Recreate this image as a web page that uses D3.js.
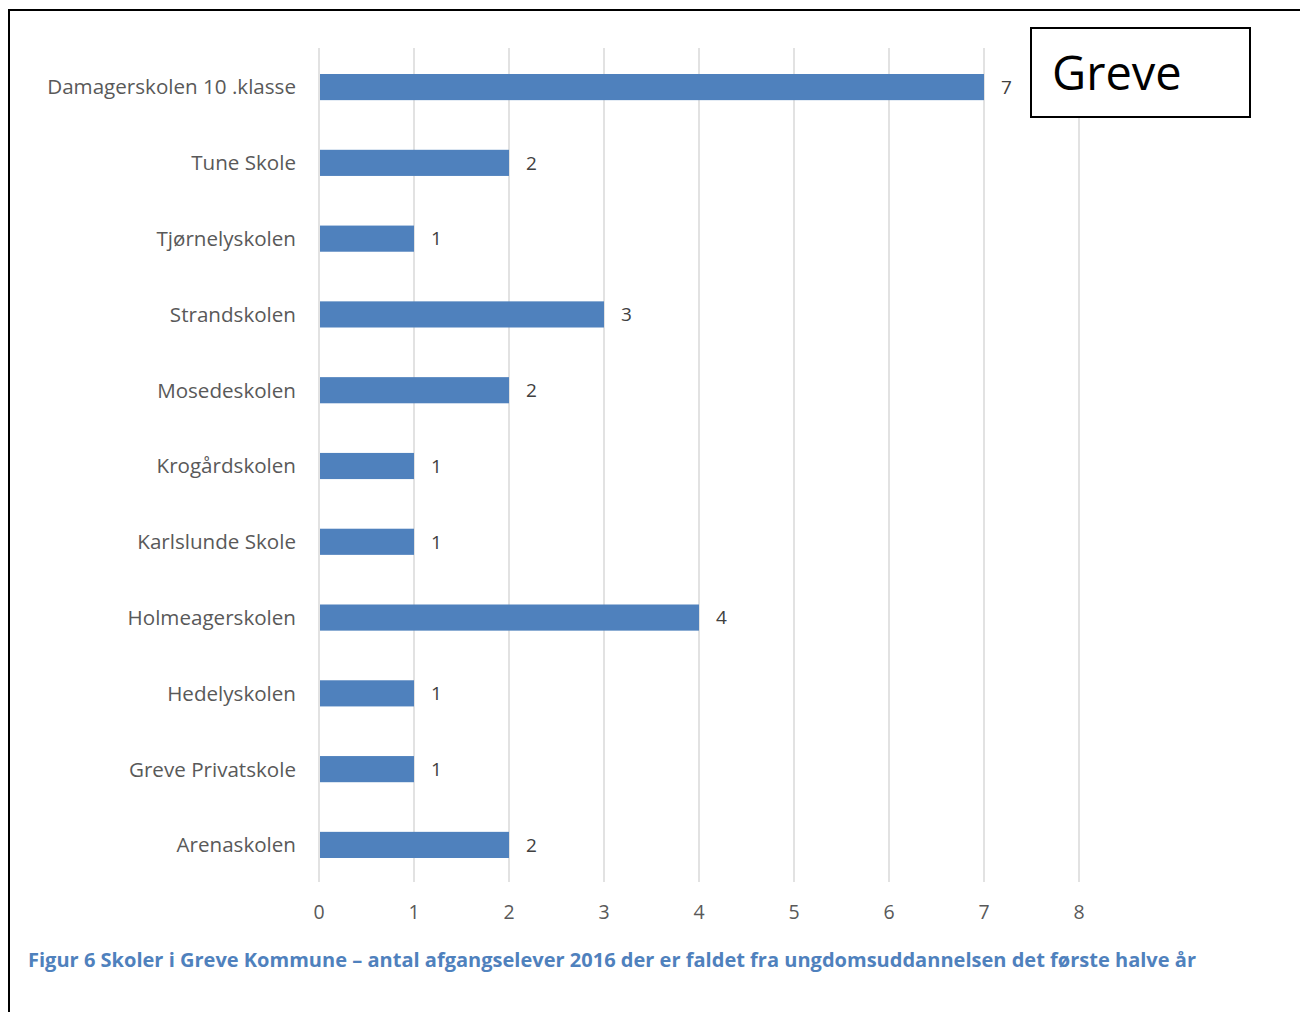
<!DOCTYPE html>
<html><head><meta charset="utf-8">
<script src="https://cdn.jsdelivr.net/npm/d3@7"></script>
<style>body{margin:0;background:#fff}svg{display:block}</style>
</head><body>
<svg id="c" width="1300" height="1012"></svg>
<script>
const categories = ["Damagerskolen 10 .klasse","Tune Skole","Tjørnelyskolen","Strandskolen","Mosedeskolen","Krogårdskolen","Karlslunde Skole","Holmeagerskolen","Hedelyskolen","Greve Privatskole","Arenaskolen"];
const values = [7,2,1,3,2,1,1,4,1,1,2];
const xTicks = [0,1,2,3,4,5,6,7,8];
const boxLabel = "Greve";
const caption = "Figur 6 Skoler i Greve Kommune – antal afgangselever 2016 der er faldet fra ungdomsuddannelsen det første halve år";

const svg = d3.select("#c");
const font = "'Open Sans', sans-serif";
// outer border
svg.append("path").attr("d","M9,1012 L9,10 L1300,10").attr("fill","none").attr("stroke","#000").attr("stroke-width",2);

const x = d3.scaleLinear().domain([0,8]).range([319,1079]);
const y = d3.scaleBand().domain(categories).range([49,883]).paddingInner(0.655).paddingOuter(0.33);

const g = svg.append("g");
g.selectAll("line.grid").data(xTicks).join("line").attr("class","grid")
  .attr("x1",d=>x(d)).attr("x2",d=>x(d)).attr("y1",48).attr("y2",882)
  .attr("stroke","#d9d9d9").attr("stroke-width",1.5);

g.selectAll("rect").data(categories).join("rect")
  .attr("x",x(0)+1).attr("y",d=>y(d)).attr("height",y.bandwidth())
  .attr("width",(d,i)=>x(values[i])-x(0)-1).attr("fill","#4f81bd");

g.selectAll("text.val").data(categories).join("text").attr("class","val")
  .attr("x",(d,i)=>x(values[i])+17).attr("y",d=>y(d)+y.bandwidth()/2).attr("dy","0.36em")
  .attr("font-family",font).attr("font-size",19).attr("fill","#404040").text((d,i)=>values[i]);

g.selectAll("text.cat").data(categories).join("text").attr("class","cat")
  .attr("x",296).attr("y",d=>y(d)+y.bandwidth()/2).attr("dy","0.36em").attr("text-anchor","end")
  .attr("font-family",font).attr("font-size",20.6).attr("fill","#595959").text(d=>d);

g.selectAll("text.tick").data(xTicks).join("text").attr("class","tick")
  .attr("x",d=>x(d)).attr("y",912).attr("dy","0.36em").attr("text-anchor","middle")
  .attr("font-family",font).attr("font-size",19.5).attr("fill","#595959").text(d=>d);

// Greve box
svg.append("rect").attr("x",1031).attr("y",28).attr("width",219).attr("height",89)
  .attr("fill","#fff").attr("stroke","#000").attr("stroke-width",2);
svg.append("text").attr("x",1052).attr("y",90).attr("font-family",font).attr("font-size",47)
  .attr("fill","#000").text(boxLabel);

const cap = svg.append("text").attr("x",28).attr("y",967).attr("font-family",font)
  .attr("font-size",20).attr("font-weight","bold").attr("fill","#4f81bd").text(caption);
cap.attr("textLength",1168).attr("lengthAdjust","spacingAndGlyphs");
</script>
</body></html>
